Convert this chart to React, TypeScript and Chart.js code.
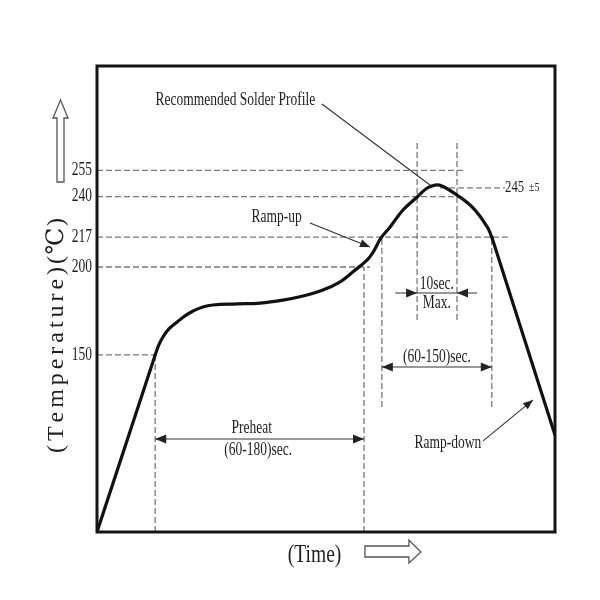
import React, { useEffect, useRef } from "react";
import { Chart, registerables } from "chart.js";
Chart.register(...registerables);

// Temperature tick labels (°C)
const tempTicks = [150, 200, 217, 240, 255];

// Profile: initial ramp (straight)
const rampTime = [0, 12.7];
const rampTemp = [49.3, 150];
// Profile: preheat / soak / reflow (smooth)
const soakTime = [12.7, 13.5, 14.4, 15.7, 17.5, 19.2, 21.0, 23.1, 25.3, 30.6, 35.6, 40.6, 45.0, 49.3, 53.1, 55.9, 59.0, 60.3, 62.0, 64.0, 66.8, 69.9, 72.1, 73.8, 75.3, 78.6, 82.1, 85.2, 86.2];
const soakTemp = [150, 155.7, 160.2, 164.8, 168.7, 172.2, 175.0, 177.3, 178.4, 179.0, 179.5, 181.2, 183.5, 186.9, 191.6, 197.3, 204.0, 208.5, 216.5, 222.8, 232.4, 239.8, 244.9, 246.6, 246.1, 240.9, 233.6, 222.8, 217];
// Profile: ramp-down (straight)
const coolTime = [86.2, 100];
const coolTemp = [217, 104.5];

// Horizontal guide lines
const hGuideTemp = [255, 240, 245, 217, 200, 150];
const hGuideStart = [0, 0, 74.9, 0, 0, 0];
const hGuideEnd = [79.9, 79.5, 89.1, 90.0, 59.6, 12.7];
// Vertical guide lines
const vGuideTime = [12.7, 58.3, 62.2, 69.9, 78.6, 86.2];
const vGuideLow = [49.3, 49.3, 120.4, 169.9, 169.9, 120.4];
const vGuideHigh = [150, 200, 217, 271.1, 271.1, 217];

const X_MIN = 0, X_MAX = 100, Y_MIN = 49.3, Y_MAX = 314.3;

const FONT = "'Liberation Serif', 'Times New Roman', serif";

function txt(ctx: CanvasRenderingContext2D, s: string, x: number, y: number, size: number, align: CanvasTextAlign = "center", sx = 0.75) {
  ctx.save();
  ctx.translate(x, y);
  ctx.scale(sx, 1);
  ctx.font = `${size}px ${FONT}`;
  ctx.textAlign = align;
  ctx.textBaseline = "middle";
  ctx.fillStyle = "#1e1e1e";
  ctx.fillText(s, 0, 0);
  ctx.restore();
}

function head(ctx: CanvasRenderingContext2D, x1: number, y1: number, x2: number, y2: number, len = 10, w = 4) {
  const a = Math.atan2(y2 - y1, x2 - x1);
  ctx.beginPath();
  ctx.moveTo(x2, y2);
  ctx.lineTo(x2 - len * Math.cos(a) + w * Math.sin(a), y2 - len * Math.sin(a) - w * Math.cos(a));
  ctx.lineTo(x2 - len * Math.cos(a) - w * Math.sin(a), y2 - len * Math.sin(a) + w * Math.cos(a));
  ctx.closePath();
  ctx.fill();
}

function line(ctx: CanvasRenderingContext2D, x1: number, y1: number, x2: number, y2: number) {
  ctx.beginPath();
  ctx.moveTo(x1, y1);
  ctx.lineTo(x2, y2);
  ctx.stroke();
}

const bgPlugin = {
  id: "bg",
  beforeDraw(chart: any) {
    const ctx = chart.ctx;
    ctx.save();
    ctx.fillStyle = "#ffffff";
    ctx.fillRect(0, 0, chart.width, chart.height);
    ctx.restore();
  },
};

const annotPlugin = {
  id: "annot",
  afterDraw(chart: any) {
    const ctx: CanvasRenderingContext2D = chart.ctx;
    const xs = chart.scales.x, ys = chart.scales.y;
    const X = (v: number) => xs.getPixelForValue(v);
    const Y = (v: number) => ys.getPixelForValue(v);
    const a = chart.chartArea;
    ctx.save();

    // frame
    ctx.strokeStyle = "#151515";
    ctx.lineWidth = 3;
    ctx.strokeRect(a.left, a.top, a.right - a.left, a.bottom - a.top);

    // tick labels
    for (const t of tempTicks) txt(ctx, String(t), a.left - 5, Y(t), 18, "right");

    // y-axis title
    const drawSpaced = (s: string, cx: number, cy: number, target: number) => {
      ctx.save();
      ctx.translate(cx, cy);
      ctx.rotate(-Math.PI / 2);
      ctx.font = `24px ${FONT}, 'DejaVu Serif'`;
      ctx.fillStyle = "#1e1e1e";
      ctx.textBaseline = "middle";
      ctx.textAlign = "left";
      const chars = Array.from(s);
      let w = 0;
      for (const c of chars) w += ctx.measureText(c).width;
      const sp = (target - w) / (chars.length - 1);
      let x = -target / 2;
      for (const c of chars) {
        ctx.fillText(c, x, 0);
        x += ctx.measureText(c).width + sp;
      }
      ctx.restore();
    };
    drawSpaced("(Temperature)", a.left - 40, a.top + 294, 186);
    drawSpaced("(℃)", a.left - 40, a.top + 175, 46);

    // up arrow (outline)
    ctx.strokeStyle = "#555";
    ctx.lineWidth = 1.3;
    const ux = a.left - 36.5, uy = a.top + 34;
    ctx.beginPath();
    ctx.moveTo(ux, uy);
    ctx.lineTo(ux - 7.5, uy + 18);
    ctx.lineTo(ux - 3.5, uy + 18);
    ctx.lineTo(ux - 3.5, uy + 82);
    ctx.lineTo(ux + 3.5, uy + 82);
    ctx.lineTo(ux + 3.5, uy + 18);
    ctx.lineTo(ux + 7.5, uy + 18);
    ctx.closePath();
    ctx.stroke();

    // (Time) and right arrow
    txt(ctx, "(Time)", X(47.5), a.bottom + 23, 26);
    const rx = X(58.5), rb = a.bottom;
    ctx.beginPath();
    ctx.moveTo(rx, rb + 14);
    ctx.lineTo(rx + 44, rb + 14);
    ctx.lineTo(rx + 44, rb + 8);
    ctx.lineTo(rx + 56, rb + 20);
    ctx.lineTo(rx + 44, rb + 31);
    ctx.lineTo(rx + 44, rb + 25);
    ctx.lineTo(rx, rb + 25);
    ctx.closePath();
    ctx.stroke();

    // annotations
    ctx.strokeStyle = "#333";
    ctx.fillStyle = "#222";
    ctx.lineWidth = 1.1;

    txt(ctx, "Recommended Solder Profile", X(30.2), Y(295), 18);
    line(ctx, X(49.1), Y(292.7), X(72.7), Y(246.6));

    txt(ctx, "Ramp-up", X(39.2), Y(228), 18);
    line(ctx, X(46.5), Y(225), X(59.6), Y(211.4));
    head(ctx, X(46.5), Y(225), X(59.6), Y(211.4));

    txt(ctx, "245", X(89.1), Y(245), 17, "left");
    txt(ctx, "±5", X(89.1) + 24, Y(245), 13, "left");

    // 10 sec max
    txt(ctx, "10sec.", X(74.2), Y(190.3), 18);
    txt(ctx, "Max.", X(74.2), Y(179.5), 18);
    line(ctx, X(65.1), Y(185.2), X(83.0), Y(185.2));
    head(ctx, X(65.1), Y(185.2), X(69.9), Y(185.2), 11, 4.5);
    head(ctx, X(83.0), Y(185.2), X(78.6), Y(185.2), 11, 4.5);

    // 60-150 sec
    txt(ctx, "(60-150)sec.", X(74.2), Y(148.6), 18);
    line(ctx, X(62.2), Y(143.1), X(86.2), Y(143.1));
    head(ctx, X(86.2), Y(143.1), X(62.2), Y(143.1), 11, 4.5);
    head(ctx, X(62.2), Y(143.1), X(86.2), Y(143.1), 11, 4.5);

    // preheat
    txt(ctx, "Preheat", X(33.8), Y(108.2), 18);
    txt(ctx, "(60-180)sec.", X(35.2), Y(96), 18);
    line(ctx, X(12.7), Y(102.2), X(58.3), Y(102.2));
    head(ctx, X(58.3), Y(102.2), X(12.7), Y(102.2), 11, 4.5);
    head(ctx, X(12.7), Y(102.2), X(58.3), Y(102.2), 11, 4.5);

    // ramp-down
    txt(ctx, "Ramp-down", X(76.6), Y(100), 18);
    line(ctx, X(84.3), Y(101.1), X(95.2), Y(124.4));
    head(ctx, X(84.3), Y(101.1), X(95.2), Y(124.4));

    ctx.restore();
  },
};

const toPts = (xs: number[], ys: number[]) => xs.map((x, i) => ({ x, y: ys[i] }));

export default function App() {
  const ref = useRef<HTMLCanvasElement | null>(null);
  useEffect(() => {
    if (!ref.current) return;
    const guideStyle = {
      borderColor: "#7a7a7a",
      borderWidth: 1.3,
      borderDash: [6, 3],
      pointRadius: 0,
      tension: 0,
      fill: false,
    };
    const curveStyle = {
      borderColor: "#111",
      borderWidth: 3.2,
      pointRadius: 0,
      fill: false,
      borderJoinStyle: "round",
      borderCapStyle: "round",
    };
    const datasets: any[] = [
      { ...curveStyle, data: toPts(rampTime, rampTemp), tension: 0 },
      { ...curveStyle, data: toPts(soakTime, soakTemp), tension: 0.4 },
      { ...curveStyle, data: toPts(coolTime, coolTemp), tension: 0 },
      ...hGuideTemp.map((t, i) => ({ ...guideStyle, data: [{ x: hGuideStart[i], y: t }, { x: hGuideEnd[i], y: t }] })),
      ...vGuideTime.map((t, i) => ({ ...guideStyle, data: [{ x: t, y: vGuideLow[i] }, { x: t, y: vGuideHigh[i] }] })),
    ];
    const chart = new Chart(ref.current, {
      type: "line",
      data: { datasets },
      options: {
        animation: false,
        responsive: false,
        events: [],
        layout: { padding: { left: 97, top: 66, right: 45, bottom: 68 } },
        scales: {
          x: { type: "linear", min: X_MIN, max: X_MAX, display: false },
          y: { type: "linear", min: Y_MIN, max: Y_MAX, display: false },
        },
        plugins: { legend: { display: false }, tooltip: { enabled: false } },
      },
      plugins: [bgPlugin, annotPlugin],
    } as any);
    return () => chart.destroy();
  }, []);
  return (
    <div style={{ position: "absolute", left: 0, top: 0, width: 600, height: 600 }}>
      <canvas ref={ref} width={600} height={600} style={{ width: 600, height: 600, display: "block" }} />
    </div>
  );
}
